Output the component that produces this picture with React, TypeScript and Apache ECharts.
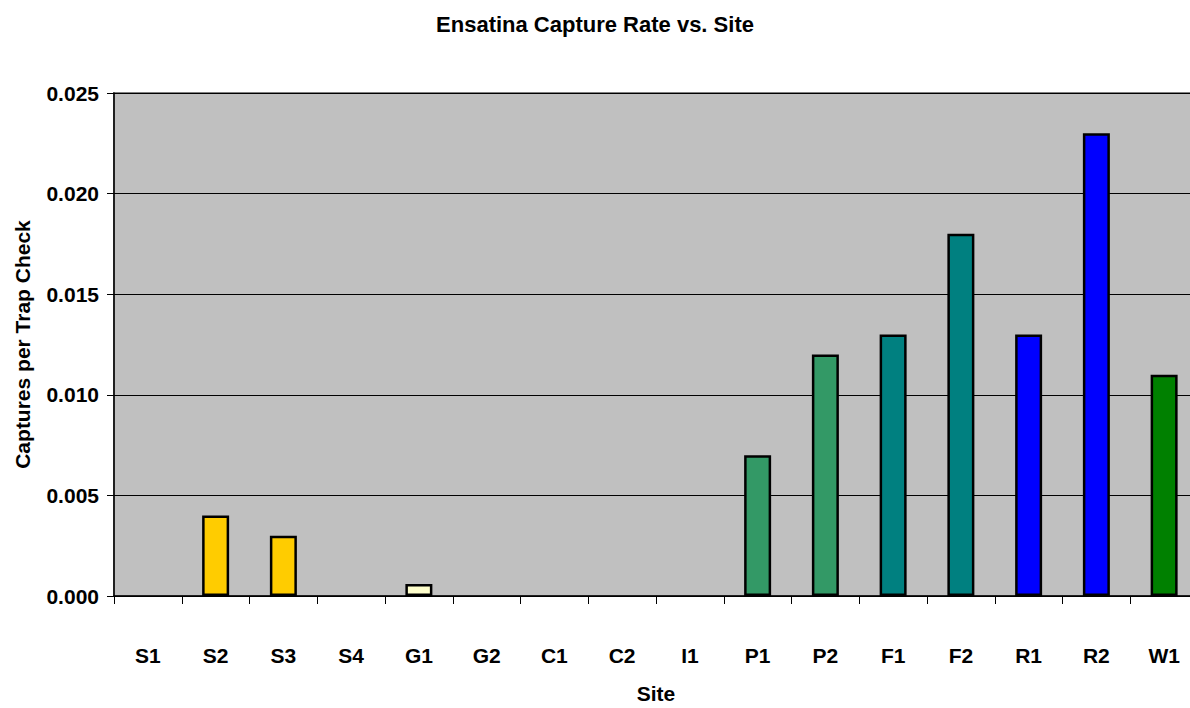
import React, { useEffect, useRef } from "react";
import * as echarts from "echarts";

const sites = ["S1", "S2", "S3", "S4", "G1", "G2", "C1", "C2", "I1", "P1", "P2", "F1", "F2", "R1", "R2", "W1"];
const captureRates = [0, 0.004, 0.003, 0, 0.0006, 0, 0, 0, 0, 0.007, 0.012, 0.013, 0.018, 0.013, 0.023, 0.011];
const barColors = [
  "#FFCC00", "#FFCC00", "#FFCC00", "#FFCC00",
  "#FFFFCC", "#FFFFCC",
  "#C0C0C0", "#C0C0C0", "#C0C0C0",
  "#339966", "#339966",
  "#008080", "#008080",
  "#0000FF", "#0000FF",
  "#008000",
];
const yTicks = [0, 0.005, 0.01, 0.015, 0.02, 0.025];

const FONT = "Liberation Sans, Arial, sans-serif";
const FS = 21;

export default function App() {
  const ref = useRef<HTMLDivElement>(null);
  useEffect(() => {
    if (!ref.current) return;
    const chart = echarts.init(ref.current, undefined, { renderer: "svg" });
    chart.setOption({
      animation: false,
      backgroundColor: "#FFFFFF",
      title: {
        text: "Ensatina Capture Rate vs. Site",
        left: 590,
        top: 8,
        textAlign: "center",
        textStyle: { fontFamily: FONT, fontSize: 22, fontWeight: "bold", color: "#000" },
      },
      grid: {
        left: 114,
        top: 93,
        right: -8,
        bottom: 112,
        outerBoundsMode: "none",
        containLabel: false,
        show: true,
        backgroundColor: "#C0C0C0",
        borderColor: "#808080",
        borderWidth: 2,
      },
      xAxis: {
        type: "category",
        data: sites,
        name: "Site",
        nameLocation: "middle",
        nameGap: 87,
        nameTextStyle: { fontFamily: FONT, fontSize: FS, fontWeight: "bold", color: "#000" },
        axisLine: { lineStyle: { color: "#000", width: 1.5 } },
        axisTick: { show: true, alignWithLabel: false, length: 8, lineStyle: { color: "#000" } },
        axisLabel: { margin: 49, fontFamily: FONT, fontSize: FS, fontWeight: "bold", color: "#000" },
        splitLine: { show: false },
      },
      yAxis: {
        type: "value",
        min: 0,
        max: yTicks[yTicks.length - 1],
        interval: yTicks[1] - yTicks[0],
        name: "Captures per Trap Check",
        nameLocation: "middle",
        nameGap: 81,
        nameRotate: 90,
        nameTextStyle: { fontFamily: FONT, fontSize: FS, fontWeight: "bold", color: "#000" },
        axisLine: { show: true, lineStyle: { color: "#000", width: 1.5 } },
        axisTick: { show: true, length: 7, lineStyle: { color: "#000" } },
        axisLabel: {
          margin: 15,
          fontFamily: FONT,
          fontSize: FS,
          fontWeight: "bold",
          color: "#000",
          formatter: (v: number) => v.toFixed(3),
        },
        splitLine: { show: true, lineStyle: { color: "#000", width: 1 } },
      },
      series: [
        {
          type: "bar",
          barWidth: 27,
          data: captureRates.map((v, i) => ({
            value: v,
            itemStyle: {
              color: barColors[i],
              borderColor: "#000",
              borderWidth: v === 0 ? 0 : 2.5,
            },
          })),
        },
      ],
    });
    return () => chart.dispose();
  }, []);
  return (
    <div
      ref={ref}
      style={{ position: "fixed", left: 0, top: 0, width: 1190, height: 708 }}
    />
  );
}
